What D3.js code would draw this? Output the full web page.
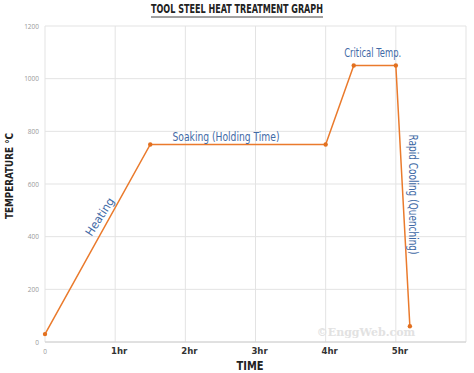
<!DOCTYPE html>
<html><head><meta charset="utf-8">
<script src="https://cdn.jsdelivr.net/npm/d3@7"></script>
<style>body{margin:0;background:#fff}svg{display:block}</style>
</head><body>
<svg id="c" width="474" height="373"></svg>
<script>
const timeHours = [0, 1.5, 4, 4.4, 5, 5.2];
const temperatures = [30, 750, 750, 1050, 1050, 60];
const yTicks = [0, 200, 400, 600, 800, 1000, 1200];
const xTicks = [0, 1, 2, 3, 4, 5];
const xTickLabels = ["0", "1hr", "2hr", "3hr", "4hr", "5hr"];
const annotations = [
  {text: "Critical Temp.", t: 4.67, v: 1098, rot: 0, len: 57},
  {text: "Soaking (Holding Time)", t: 2.58, v: 778, rot: 0, len: 107},
  {text: "Heating", t: 0.78, v: 476, rot: -57, len: 43},
  {text: "Rapid Cooling (Quenching)", t: 5.24, v: 560, rot: 90, len: 120}
];

const svg = d3.select("#c");
const x = d3.scaleLinear().domain([0, 6]).range([45, 466]);
const y = d3.scaleLinear().domain([0, 1200]).range([342, 26]);
const cond = "'DejaVu Sans Condensed','DejaVu Sans',sans-serif";

// grid
svg.append("g").selectAll("line").data(yTicks).join("line")
  .attr("x1", x(0)).attr("x2", x(6)).attr("y1", d => y(d)).attr("y2", d => y(d))
  .attr("stroke", "#e3e3e3").attr("stroke-width", 1);
svg.append("g").selectAll("line").data([0,1,2,3,4,5,6]).join("line")
  .attr("x1", d => x(d)).attr("x2", d => x(d)).attr("y1", y(0)).attr("y2", y(1200))
  .attr("stroke", "#e3e3e3").attr("stroke-width", 1);
svg.append("line").attr("x1", x(0)).attr("x2", x(6)).attr("y1", y(0)).attr("y2", y(0))
  .attr("stroke", "#d0d0d0");

// y tick labels
svg.append("g").selectAll("text").data(yTicks).join("text")
  .attr("x", 39).attr("y", d => y(d) + 2.5).attr("text-anchor", "end")
  .attr("font-family", "'Open Sans',sans-serif").attr("font-size", 6.5).attr("fill", "#999")
  .text(d => d);

// x tick labels
svg.append("g").selectAll("text").data(xTicks).join("text")
  .attr("x", d => x(d) + (d === 0 ? 0 : 4)).attr("y", 354).attr("text-anchor", "middle")
  .attr("font-family", d => d === 0 ? "'Open Sans',sans-serif" : cond)
  .attr("font-weight", d => d === 0 ? "normal" : "bold")
  .attr("font-size", d => d === 0 ? 6.5 : 9.5).attr("fill", d => d === 0 ? "#999" : "#333")
  .text((d, i) => xTickLabels[i]);

// watermark
svg.append("text").attr("x", 366).attr("y", 336).attr("text-anchor", "middle")
  .attr("font-family", "'DejaVu Serif',serif").attr("font-weight", "bold").attr("font-size", 11)
  .attr("fill", "#e2e2e2").text("©EnggWeb.com");

// line
const line = d3.line().x((d, i) => x(timeHours[i])).y(d => y(d));
svg.append("path").datum(temperatures).attr("d", line)
  .attr("fill", "none").attr("stroke", "#ea7a2c").attr("stroke-width", 1.5);
svg.append("g").selectAll("circle").data(temperatures).join("circle")
  .attr("cx", (d, i) => x(timeHours[i])).attr("cy", d => y(d))
  .attr("r", 2.2).attr("fill", "#e2701f");

// annotations
svg.append("g").selectAll("text").data(annotations).join("text")
  .attr("transform", d => `translate(${x(d.t)},${y(d.v)}) rotate(${d.rot})`)
  .attr("text-anchor", "middle").attr("dy", "0.35em")
  .attr("font-family", cond).attr("font-size", 11.5).attr("fill", "#3f6aa6")
  .attr("textLength", d => d.len).attr("lengthAdjust", "spacingAndGlyphs")
  .text(d => d.text);

// title
svg.append("text").attr("x", 237).attr("y", 13).attr("text-anchor", "middle")
  .attr("font-family", cond).attr("font-weight", "bold").attr("font-size", 11.5)
  .attr("fill", "#222")
  .attr("textLength", 172).attr("lengthAdjust", "spacingAndGlyphs")
  .text("TOOL STEEL HEAT TREATMENT GRAPH");
svg.append("line").attr("x1", 151).attr("x2", 323).attr("y1", 17).attr("y2", 17)
  .attr("stroke", "#444").attr("stroke-width", 1);

// axis titles
svg.append("text").attr("x", 250).attr("y", 370).attr("text-anchor", "middle")
  .attr("font-family", cond).attr("font-weight", "bold").attr("font-size", 12)
  .attr("fill", "#222").attr("textLength", 27).attr("lengthAdjust", "spacingAndGlyphs")
  .text("TIME");
svg.append("text").attr("transform", "translate(13,176) rotate(-90)").attr("text-anchor", "middle")
  .attr("font-family", cond).attr("font-weight", "bold").attr("font-size", 10.5)
  .attr("fill", "#222").attr("textLength", 86).attr("lengthAdjust", "spacingAndGlyphs")
  .text("TEMPERATURE °C");
</script>
</body></html>
